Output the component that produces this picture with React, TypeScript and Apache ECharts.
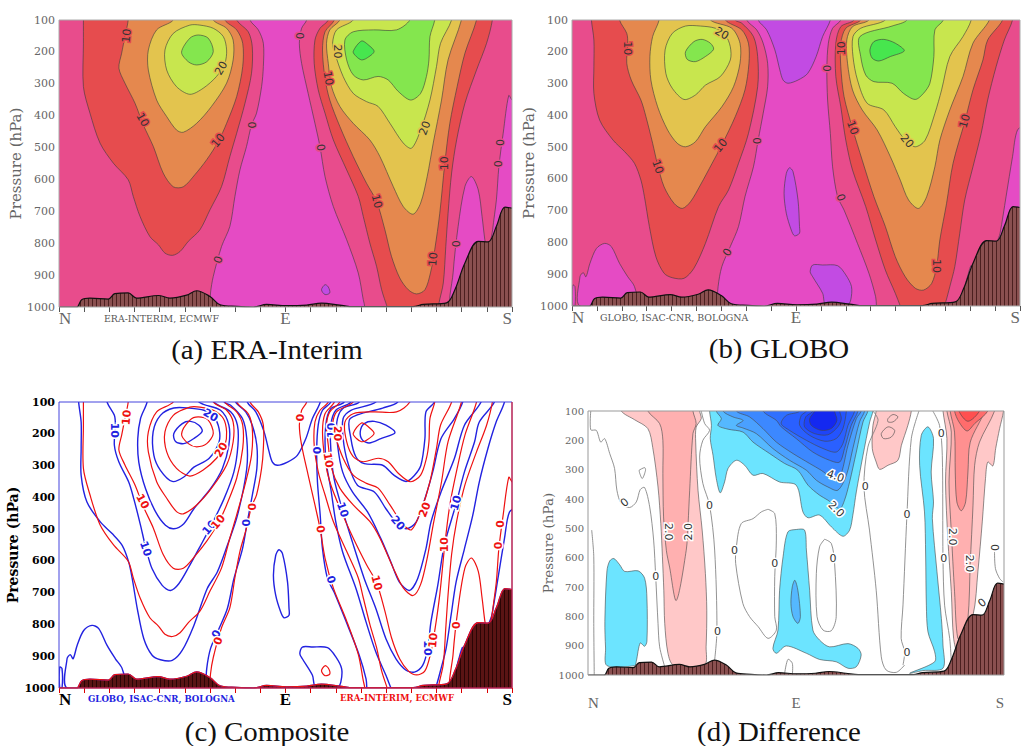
import React, { useEffect, useRef } from "react";
import * as echarts from "echarts";

type Pt = number[];

// Position along the section in degrees (N = 0, E = 90, S = 180) and pressure in hPa.
const terrain: Pt[] = [[0,1000],[7,1000],[9,977],[12.3,972],[19.6,975],[22.2,958],[27.5,956],[30.8,972],[39.5,964],[44.1,972],[50.7,963],[54.7,949],[60,967],[64,993],[70.6,998],[77.2,1000],[82.5,992],[90.4,996],[98.4,994],[104.3,988],[111.6,994],[116.9,999],[140.7,999],[144.7,992],[154,987],[157.3,946],[161.3,862],[166.6,794],[170.5,796],[173.8,747],[177.2,687],[180,690]];

// ERA-Interim contours
const eraCentre: Pt[] = [[75.9,100],[79.2,131],[81.2,173],[81.2,246],[80.5,309],[78.5,392],[76.5,429],[74.5,497],[71.9,570],[69.9,653],[67.9,747],[64.6,810],[61.3,904],[60.2,956],[60,1000],[60,1040],[121.5,1040],[121.5,1000],[120.9,977],[118.9,893],[114.3,789],[109,685],[105.7,591],[103.7,497],[101.7,424],[99,330],[96.4,236],[95.5,173],[96.4,126],[98.4,100]];
const eraLobe: Pt[] = [[156,1019],[156.6,893],[158.6,747],[161.3,622],[163.9,591],[166.6,633],[168.1,716],[169.2,789],[170.1,831],[170.1,1019]];
const eraEdge: Pt[] = [[171.6,831],[172.3,758],[173.8,664],[174.8,559],[176.5,455],[178.7,337],[180,351],[183,371],[183,831]];
const eraBlob: Pt[] = [[104.3,946],[105.7,930],[107,937],[107.6,956],[105.7,961]];
const eraRedWest: Pt[] = [[9.7,100],[9.7,173],[9.7,309],[12.3,392],[16.3,486],[21.6,549],[27.5,601],[29.5,653],[32.2,716],[36.1,779],[39.5,805],[42.1,831],[45.1,838],[48.1,826],[51.4,794],[56,758],[60,695],[64.6,622],[67.9,528],[70.6,455],[73.9,361],[76.5,267],[76.8,184],[75.2,137],[70.6,100]];
const eraOrangeWest: Pt[] = [[27.5,100],[26.2,152],[24.9,204],[23.8,251],[26.2,298],[30.2,361],[33.5,429],[37.5,497],[41.4,580],[45.4,623],[49.4,623],[54,585],[58.7,538],[63.3,481],[66.6,424],[70.6,340],[73,246],[73,173],[70.6,131],[65.9,100]];
const eraYellowWest: Pt[] = [[45.4,100],[38.8,131],[35.5,194],[35.5,257],[38.8,351],[42.8,403],[46.7,445],[49.4,452],[54.7,424],[60.6,371],[66.6,298],[69.2,225],[69.2,163],[66.6,126],[61.3,100]];
const eraLimeWest: Pt[] = [[56,116],[52,116],[45.4,142],[42.1,194],[42.8,257],[46.7,309],[52,333],[57.3,314],[62.6,277],[65.9,236],[66.6,194],[65.3,152],[61.3,126]];
const eraGreenWest: Pt[] = [[48.7,201],[52,157],[55.3,147],[59.3,157],[61.3,199],[58.7,231],[54.7,241],[51.4,231]];
const eraRedEast: Pt[] = [[107,100],[103.7,126],[101.7,163],[101.4,236],[103,319],[105.7,392],[109,476],[114.3,570],[118.9,653],[120.9,716],[123.5,799],[126.2,873],[128.2,946],[130.4,1000],[132,1040],[150,1040],[151,987],[152.7,925],[153.7,810],[154.6,706],[156,580],[158,476],[161.3,361],[165.9,257],[169.9,173],[172.2,100]];
const eraOrangeEast: Pt[] = [[109.4,100],[105.7,137],[104.7,194],[105.7,283],[107.6,351],[111.6,434],[116.9,528],[122.2,612],[126.2,669],[129.5,758],[132.1,841],[135.4,909],[138.8,946],[142.1,959],[145.4,946],[147.6,893],[149.3,820],[151.3,706],[153.3,549],[155.3,424],[158.2,309],[161.3,204],[165.9,100]];
const eraYellowEast: Pt[] = [[111.6,100],[107.6,131],[106.3,173],[107,236],[108.3,309],[111.6,371],[116.9,424],[123.5,476],[127.5,528],[132.8,622],[136.8,685],[140.7,709],[143.7,674],[146.3,591],[148.7,486],[152,351],[154.6,225],[159.9,100]];
const eraLimeEast: Pt[] = [[116.9,100],[110.3,131],[108.7,173],[109.6,204],[112.9,277],[116.9,330],[122.2,356],[126.8,371],[131.5,424],[136.8,486],[140.1,502],[143.7,445],[147.4,351],[150,246],[151.6,173],[156,100]];
const eraGreenEast: Pt[] = [[149.3,100],[147.4,152],[147,225],[146,277],[143.7,330],[139.7,351],[134.8,324],[130.8,288],[126.8,277],[120.9,288],[116.9,272],[114.3,225],[113.6,163],[116.9,137],[124.9,131],[134.1,131],[139.4,100]];
const eraBrightEast: Pt[] = [[116.9,199],[120.2,166],[122.9,178],[125.2,199],[122.2,220],[120.2,225],[118.2,215]];
const eraLabels: (number | string)[][] = [[26.9,149,"10",85],[64.5,251,"20",60],[33.2,413,"10",-60],[63.3,478,"10",50],[76.8,429,"0",90],[63.3,852,"0",70],[95.7,149,"0",-90],[110.6,199,"20",-90],[107,283,"10",-80],[103.9,500,"0",-80],[126.2,669,"10",-75],[153.3,549,"10",90],[145.4,439,"20",70],[148.7,850,"10",85],[157.9,802,"0",90],[175.6,484,"0",90],[174.8,551,"0",90]];

// GLOBO contours
const gloCentre: Pt[] = [[70.2,100],[74.2,131],[76.8,173],[78.6,236],[78.6,310],[76.8,394],[74.8,478],[72.9,562],[69.5,656],[66.9,750],[63.6,813],[60.2,876],[58.7,939],[58.3,1000],[58.3,1040],[122.3,1040],[122.3,1000],[122,971],[119.3,897],[114.7,803],[109.3,698],[106.7,656],[104.7,562],[103.8,457],[102.7,352],[102.4,252],[103,173],[104.7,126],[108,100]];
const gloPurpleTop: Pt[] = [[74.8,100],[78.2,131],[81.5,194],[83.5,257],[84.8,289],[86.8,299],[90.8,289],[94.7,268],[98.1,215],[100.7,152],[103.8,100]];
const gloPurpleMid: Pt[] = [[87.4,565],[88.8,577],[90.8,666],[91.4,750],[91.4,771],[89.4,779],[88.1,761],[86.1,708],[85.2,645],[86.1,583]];
const gloPurpleLow: Pt[] = [[96.7,871],[100.7,871],[106.7,873],[110,902],[112.3,939],[112,981],[110.7,997],[102,997],[100.7,960],[96.7,908],[95.7,892]];
const gloLobe: Pt[] = [[3.2,1000],[3.2,908],[4.5,895],[5.6,908],[7.2,866],[9.8,819],[13.1,803],[15.8,813],[19.1,866],[22.4,908],[25.1,939],[26,1000]];
const gloStrip: Pt[] = [[0.3,934],[1.2,939],[1.2,1000],[0.3,1000]];
const gloEdge: Pt[] = [[170.4,824],[172,771],[174.4,656],[177,530],[179,446],[182.3,436],[182.3,824]];
const gloSmall: Pt[] = [[160.4,873],[159.1,902],[158.2,939],[161.1,939]];
const gloRedWest: Pt[] = [[7.8,100],[8.8,163],[8.8,247],[8.8,331],[11.1,415],[16.5,478],[21.1,514],[25.1,551],[27.7,604],[29.1,656],[31.1,750],[33.7,845],[37,897],[40.3,911],[45,913],[49,881],[53.6,803],[58.9,687],[62.9,635],[66.9,551],[70.9,457],[74.6,310],[74.6,215],[72.9,152],[68.2,110],[65.6,100]];
const gloOrangeWest: Pt[] = [[19.1,100],[22,142],[22.4,173],[22,236],[23.8,289],[27.7,352],[29.7,404],[32.4,488],[34.4,556],[37,625],[41,677],[44.3,693],[47.6,672],[51.6,619],[56.3,551],[60.2,493],[65.6,404],[69.5,320],[71.1,236],[70.9,173],[68.2,131],[61.6,100]];
const gloYellowWest: Pt[] = [[35,100],[32.4,152],[31.3,215],[31.7,289],[34.4,373],[38.4,446],[42.3,488],[45.6,499],[49.6,483],[53.6,436],[60.2,373],[64.9,310],[67.5,236],[67.5,173],[64.2,126],[55.6,100]];
const gloLimeWest: Pt[] = [[45.6,119],[40.3,142],[37.4,194],[37.7,268],[40.3,315],[45,350],[49.6,336],[53.6,305],[59.6,278],[63.6,226],[63.6,184],[61.6,147],[57.6,126],[51.6,119]];
const gloGreenWest: Pt[] = [[45.6,200],[49,168],[52.3,161],[55.6,173],[56.9,192],[53.6,215],[49.6,231],[46.3,224]];
const gloRedEast: Pt[] = [[113.3,100],[108,121],[106,173],[106,278],[108,373],[110,478],[112.7,572],[118,687],[122,792],[125.9,887],[129.9,960],[131.9,1000],[134,1040],[148,1040],[150.2,986],[151.8,939],[153.8,876],[155.8,771],[157.8,666],[161.1,562],[164.4,457],[167,352],[170.4,247],[173.7,163],[177,100]];
const gloOrangeEast: Pt[] = [[116,100],[110,126],[108,173],[108,247],[109.3,341],[112.7,441],[116.6,541],[121.3,656],[125.9,750],[129.9,845],[133.9,908],[137.9,944],[141.2,950],[144.5,929],[146.5,876],[147.8,792],[150.5,677],[153.1,551],[157.8,420],[161.1,320],[165.1,226],[167,163],[173,100]];
const gloYellowEast: Pt[] = [[119.3,100],[112.7,121],[110.4,163],[110.7,236],[112.7,320],[116.6,383],[122.6,446],[127.9,530],[131.9,604],[135.2,666],[139.2,693],[142.5,656],[145.8,562],[147.8,478],[151.8,383],[157.1,278],[161.1,173],[167.7,100]];
const gloLimeEast: Pt[] = [[125.9,100],[116,126],[112.9,152],[112.9,215],[114.7,289],[118.6,362],[125.3,383],[129.9,436],[133.9,478],[137.9,499],[141.9,478],[145.8,394],[148.5,320],[151.8,215],[157.1,152],[160.4,100]];
const gloGreenEast: Pt[] = [[149.2,100],[145.8,131],[145.4,215],[143.8,299],[141.2,331],[137.9,350],[133.2,331],[128.6,299],[121.3,294],[118,273],[116,215],[115.7,152],[128.6,119],[134.6,100]];
const gloBrightEast: Pt[] = [[119.7,194],[121.3,168],[125.3,161],[129.9,173],[133.5,197],[127.9,215],[123.3,229],[120.6,220]];
const gloLabels: (number | string)[][] = [[22.2,189,"10",-90],[60.2,142,"20",-30],[34.4,562,"10",-70],[59.8,495,"10",50],[74.6,480,"0",90],[62.5,831,"0",60],[102.4,252,"0",-90],[108.3,189,"10",90],[112.7,439,"10",-70],[108,659,"0",-70],[134.6,481,"20",-50],[157.8,418,"10",75],[146.5,874,"10",-90]];

// Difference contours
const difPinkWest: Pt[] = [[14.4,100],[20.2,130],[25.9,160],[28,224],[30.3,359],[31.5,484],[32.2,597],[32.8,711],[33.2,824],[34.6,926],[37,966],[50.4,966],[51.1,904],[51.4,779],[50.8,654],[49.4,506],[47.6,370],[46.6,206],[46.8,155],[49,126],[48.3,100]];
const difRoseWest: Pt[] = [[25.9,100],[31,143],[32.4,200],[32.4,313],[32.7,461],[33.9,575],[35.3,632],[38.2,746],[42.5,575],[43.3,484],[44,370],[45.4,177],[46.8,143],[45.4,100]];
const difPinkMid: Pt[] = [[124.7,100],[123.3,149],[123,228],[124.7,274],[126.2,299],[129.8,285],[134.1,268],[135.6,217],[138.4,149],[139.9,100]];
const difOvalOne: Pt[] = [[129.8,126],[132,112],[134.1,120],[132,137],[129.8,137]];
const difOvalTwo: Pt[] = [[126.9,177],[129.8,154],[132.7,166],[131.2,189],[127.9,194]];
const difPinkEast: Pt[] = [[153.6,100],[155.3,194],[154.7,342],[155.7,535],[157.2,716],[158.2,875],[160,921],[166.6,796],[168.7,648],[170.6,478],[172,330],[173,274],[175.2,287],[176.4,228],[178.1,160],[179.8,100]];
const difRoseEast: Pt[] = [[155.3,100],[157.2,172],[156.2,342],[157.2,512],[158.6,716],[160,875],[162.2,864],[164.4,807],[165.4,620],[166.6,421],[167.3,285],[169.4,206],[175.9,100]];
const difSalmonEast: Pt[] = [[156.7,100],[158.6,172],[158.9,308],[159.6,410],[161.5,440],[163.4,410],[164.4,308],[165.4,206],[171.6,100]];
const difCoralEast: Pt[] = [[158.6,100],[160.5,137],[164,168],[167.3,143],[173,100]];
const difRedEast: Pt[] = [[160.5,100],[164.4,135],[169.4,100]];
const difCyanWest: Pt[] = [[11.2,603],[13.7,624],[15.9,647],[21.7,645],[24.5,670],[25.5,738],[25.5,885],[24.5,902],[22.6,891],[20.9,953],[20.2,968],[8.2,968],[7.6,908],[7.3,817],[8.2,645],[9.4,611]];
const difCyanTop: Pt[] = [[52.6,100],[53.4,149],[52.9,194],[54.1,251],[55.5,330],[57.2,379],[59.1,342],[60.6,296],[64.2,268],[67.8,285],[71.4,319],[75.7,313],[82.9,342],[90.1,353],[93,444],[95.2,464],[100.2,455],[105.3,495],[110.3,527],[113.2,506],[114.6,455],[116.1,376],[119,251],[121.9,137],[123.3,100]];
const difBlue1: Pt[] = [[55.5,100],[57.7,126],[56.2,149],[60.6,162],[67.1,172],[71.4,206],[78.6,245],[85.1,279],[90.8,302],[95.2,353],[100.2,387],[103.8,404],[108.9,433],[111,404],[113.2,342],[116.1,240],[119,137],[121.1,100]];
const difBlue2: Pt[] = [[58.4,100],[62.7,120],[67.1,132],[64.2,149],[67.1,158],[72.8,177],[80,228],[87.2,268],[94.5,302],[98.8,336],[103.8,359],[108.1,370],[111.8,319],[114.6,228],[117.5,137],[119.7,100]];
const difBlue3: Pt[] = [[64.2,100],[69.9,120],[75.7,160],[81.5,206],[88.7,245],[95.9,279],[100.9,302],[105.2,325],[108.9,325],[112.5,217],[116.1,126],[118.2,100]];
const difBlue4: Pt[] = [[75.7,100],[81.5,132],[83.6,154],[90.1,194],[97.3,240],[104.5,268],[108.9,274],[111,228],[113.9,149],[116.8,100]];
const difBlue5: Pt[] = [[91.6,100],[85.8,115],[83.6,143],[87.2,166],[94.5,200],[101.7,228],[107.4,240],[110.3,211],[112.5,149],[115.4,100]];
const difBlue6: Pt[] = [[94.5,100],[92.3,115],[91.6,149],[95.9,183],[102.4,203],[107.4,194],[110.3,160],[111.8,100]];
const difBlue7: Pt[] = [[97.3,100],[94.2,120],[93.7,154],[98,177],[103.8,181],[108.1,154],[109.6,126],[108.9,100]];
const difBlue8: Pt[] = [[98,100],[95.9,126],[96.6,149],[100.9,166],[105.2,160],[107.7,132],[106.7,100]];
const difCyanLobe: Pt[] = [[90.1,504],[93.7,506],[94.5,574],[95.9,711],[97.3,847],[100.2,881],[104.5,904],[112.5,893],[116.8,909],[118.2,932],[116.1,972],[112.5,977],[107.4,955],[100.2,947],[94.5,926],[85.8,901],[81.5,926],[80,909],[82.2,847],[82.9,711],[84.4,597],[86.5,512]];
const difBlueCore: Pt[] = [[89.5,677],[90.8,711],[91.9,801],[90.8,824],[88.7,801],[87.8,756],[88.4,699]];
const difCyanEast: Pt[] = [[147.1,154],[149.5,194],[148.5,308],[149.5,410],[149,467],[151,648],[152.9,807],[153.6,898],[153.6,977],[144.9,985],[139.2,994],[150,955],[150,921],[147.1,853],[146.4,762],[146.1,591],[145.6,444],[143.5,285],[144.2,183]];
const difZeroA: Pt[] = [[1.2,100],[1.2,164],[3.6,166],[5.5,206],[7.2,194],[9.4,245],[11.5,296],[12.5,370],[14.4,416],[18,429],[20.9,410],[22.6,368],[24.5,361],[26.7,427],[28.4,540],[29.3,665],[30.3,824],[31,904],[33.2,972]];
const difZeroB: Pt[] = [[22.1,302],[24.5,293],[24.9,302],[23.5,330],[22.4,313],[22.1,302]];
const difZeroC: Pt[] = [[1.6,506],[2.5,597],[2.5,824],[2.7,1000]];
const difZeroD: Pt[] = [[49,100],[50.5,143],[52.6,166],[49.7,200],[48.3,257],[49.7,347],[52.6,421],[54.8,574],[55.8,847],[54.8,949]];
const difZeroE: Pt[] = [[77.9,435],[80.8,450],[81.5,540],[80.8,665],[80.8,801],[81.5,847],[77.9,875],[73.6,835],[69.9,801],[67,756],[63.9,620],[64.2,563],[66.3,484],[71.4,467],[75,444],[77.9,435]];
const difZeroF: Pt[] = [[102.4,537],[105.3,552],[106.7,620],[107.4,801],[105.3,849],[101.7,847],[99.1,801],[98.8,654],[100.2,563],[102.4,537]];
const difZeroG: Pt[] = [[85.1,994],[86.5,947],[88.4,960],[88.4,1000]];
const difZeroH: Pt[] = [[123.3,100],[125.5,132],[121.1,223],[119.4,359],[121.8,506],[124.7,711],[126.9,938],[129,983],[133.4,991],[137,966]];
const difZeroI: Pt[] = [[143.2,100],[139.9,194],[138,455],[136.3,761],[135.5,875],[137,921],[136.3,966]];
const difZeroJ: Pt[] = [[149.2,100],[152.1,149],[153.3,251],[153.6,603],[154.3,762],[156.5,875],[157.2,955]];
const difZeroK: Pt[] = [[175.9,580],[176.3,637],[178.1,671],[179.5,682]];
const difLabels: (number | string)[][] = [[15.9,412,"0",40],[29.3,665,"0",0],[56,852,"0",0],[52.6,421,"0",0],[63.4,574,"0",0],[80.8,620,"0",0],[106,603,"0",0],[120,359,"0",0],[138,452,"0",0],[153.9,604,"0",0],[152.9,177,"0",0],[138,924,"0",0],[176.2,565,"0",90],[170.6,754,"0",40],[34.9,512,"2.0",-90],[43.3,512,"2.0",90],[157.5,529,"2.0",-90],[165.1,620,"2.0",-90],[107.4,435,"2.0",-45],[107.1,322,"4.0",-20]];

const pressureTicks = { min: 100, max: 1000, step: 100 };
const sectionTicks = { min: 0, max: 180, step: 10 };

const C = {
  pink: "#e84c8c", magenta: "#e54bc4", purple: "#c24be3", red: "#e64c4e", orange: "#e5884e",
  yellow: "#e3c44e", lime: "#c8e64e", green: "#84e64e", bright: "#47e64e",
  cyan: "#6ce4ff", b1: "#55b8ff", b2: "#4aa0ff", b3: "#3c88ff", b4: "#3070ff", b5: "#2a60ff", b6: "#2454ff", b7: "#1e44f8", b8: "#1428f0",
  p1: "#ffc8c8", p2: "#ffb0b0", p3: "#ff9090", p4: "#ff6c6c", p5: "#ff5050",
};

type Layer = { pts: Pt[]; fill: string; open?: boolean };

const eraLayers: Layer[] = [
  { pts: eraCentre, fill: C.magenta }, { pts: eraLobe, fill: C.magenta }, { pts: eraEdge, fill: C.magenta }, { pts: eraBlob, fill: C.purple },
  { pts: eraRedWest, fill: C.red }, { pts: eraOrangeWest, fill: C.orange }, { pts: eraYellowWest, fill: C.yellow }, { pts: eraLimeWest, fill: C.lime }, { pts: eraGreenWest, fill: C.green },
  { pts: eraRedEast, fill: C.red }, { pts: eraOrangeEast, fill: C.orange }, { pts: eraYellowEast, fill: C.yellow }, { pts: eraLimeEast, fill: C.lime }, { pts: eraGreenEast, fill: C.green }, { pts: eraBrightEast, fill: C.bright },
];
const gloLayers: Layer[] = [
  { pts: gloCentre, fill: C.magenta }, { pts: gloPurpleTop, fill: C.purple }, { pts: gloPurpleMid, fill: C.purple }, { pts: gloPurpleLow, fill: C.purple },
  { pts: gloLobe, fill: C.magenta }, { pts: gloStrip, fill: C.magenta }, { pts: gloEdge, fill: C.magenta }, { pts: gloSmall, fill: C.magenta },
  { pts: gloRedWest, fill: C.red }, { pts: gloOrangeWest, fill: C.orange }, { pts: gloYellowWest, fill: C.yellow }, { pts: gloLimeWest, fill: C.lime }, { pts: gloGreenWest, fill: C.green },
  { pts: gloRedEast, fill: C.red }, { pts: gloOrangeEast, fill: C.orange }, { pts: gloYellowEast, fill: C.yellow }, { pts: gloLimeEast, fill: C.lime }, { pts: gloGreenEast, fill: C.green }, { pts: gloBrightEast, fill: C.bright },
];
const difLayers: Layer[] = [
  { pts: difPinkWest, fill: C.p1 }, { pts: difRoseWest, fill: C.p2 }, { pts: difPinkMid, fill: C.p1 }, { pts: difOvalOne, fill: C.p1 }, { pts: difOvalTwo, fill: C.p1 },
  { pts: difPinkEast, fill: C.p1 }, { pts: difRoseEast, fill: C.p2 }, { pts: difSalmonEast, fill: C.p3 }, { pts: difCoralEast, fill: C.p4 }, { pts: difRedEast, fill: C.p5 },
  { pts: difCyanWest, fill: C.cyan }, { pts: difCyanTop, fill: C.cyan }, { pts: difBlue1, fill: C.b1 }, { pts: difBlue2, fill: C.b2 }, { pts: difBlue3, fill: C.b3 }, { pts: difBlue4, fill: C.b4 }, { pts: difBlue5, fill: C.b5 }, { pts: difBlue6, fill: C.b6 }, { pts: difBlue7, fill: C.b7 }, { pts: difBlue8, fill: C.b8 },
  { pts: difCyanLobe, fill: C.cyan }, { pts: difBlueCore, fill: C.b1 }, { pts: difCyanEast, fill: C.cyan },
];
const difZeroLayers: Layer[] = [difZeroA, difZeroB, difZeroC, difZeroD, difZeroE, difZeroF, difZeroG, difZeroH, difZeroI, difZeroJ, difZeroK].map((pts) => ({ pts, fill: "none", open: true }));

function extendTop(pts: Pt[]): Pt[] {
  const first = pts[0];
  const last = pts[pts.length - 1];
  const out = pts.slice();
  if (last[1] === 100) out.push([last[0], 60]);
  if (first[1] === 100) out.unshift([first[0], 60]);
  return out;
}

function contourSeries(idx: number, layers: Layer[], stroke: string, lineWidth: number, noFill = false, z = 3) {
  return {
    type: "custom", xAxisIndex: idx, yAxisIndex: idx, clip: true, z, silent: true,
    encode: { x: 0, y: 1 },
    data: layers.map((l) => l.pts[0]),
    renderItem: (params: any, api: any) => {
      const l = layers[params.dataIndex];
      const points = (l.open ? l.pts : extendTop(l.pts)).map((p) => api.coord(p));
      return {
        type: l.open ? "polyline" : "polygon",
        shape: { points, smooth: 0.3 },
        style: { fill: noFill || l.open ? "none" : l.fill, stroke, lineWidth },
      };
    },
  };
}

function labelSeries(idx: number, labels: (number | string)[][], color: string, font: string, halo: (t: string) => string) {
  return {
    type: "custom", xAxisIndex: idx, yAxisIndex: idx, z: 6, silent: true,
    encode: { x: 0, y: 1 },
    data: labels.map((l) => [l[0], l[1]]),
    renderItem: (params: any, api: any) => {
      const l = labels[params.dataIndex];
      const [x, y] = api.coord([l[0], l[1]]);
      return {
        type: "text", x, y, rotation: ((l[3] as number) * Math.PI) / 180,
        style: { text: String(l[2]), fill: color, font, align: "center", verticalAlign: "middle", stroke: halo(String(l[2])), lineWidth: 3 },
      };
    },
  };
}

function hatch(base: string, line: string) {
  const c = document.createElement("canvas");
  c.width = 4; c.height = 4;
  const g = c.getContext("2d")!;
  g.fillStyle = base; g.fillRect(0, 0, 4, 4);
  g.fillStyle = line; g.fillRect(0, 0, 1, 4);
  return { image: c, repeat: "repeat" };
}

function terrainSeries(idx: number, fill: any, stroke: string, lineWidth = 1.2) {
  return {
    type: "line", xAxisIndex: idx, yAxisIndex: idx, z: 5, silent: true, showSymbol: false, symbol: "none", smooth: 0.35,
    data: terrain, lineStyle: { color: stroke, width: lineWidth },
    ...(fill ? { areaStyle: { origin: "end", color: fill, opacity: 1 } } : {}),
  };
}

function frameSeries(idx: number, color: string, rightColor?: string) {
  return {
    type: "custom", xAxisIndex: idx, yAxisIndex: idx, z: 7, clip: false, silent: true,
    encode: { x: 0, y: 1 },
    data: [[sectionTicks.min, pressureTicks.min]],
    renderItem: (_: any, api: any) => {
      const a = api.coord([sectionTicks.min, pressureTicks.min]);
      const b = api.coord([sectionTicks.max, pressureTicks.max]);
      const children: any[] = [{ type: "rect", shape: { x: a[0], y: a[1], width: b[0] - a[0], height: b[1] - a[1] }, style: { fill: "none", stroke: color, lineWidth: 1 } }];
      if (rightColor) children.push({ type: "polyline", shape: { points: [[a[0], b[1]], [b[0], b[1]], [b[0], a[1]]] }, style: { fill: "none", stroke: rightColor, lineWidth: 1 } });
      return { type: "group", children };
    },
  };
}

const rects = [
  { left: 59, top: 20, width: 453, height: 287 },
  { left: 572, top: 20, width: 452, height: 286 },
  { left: 59, top: 402, width: 453, height: 286 },
  { left: 588, top: 411, width: 416, height: 264 },
];

export default function App() {
  const ref = useRef<HTMLDivElement>(null);
  useEffect(() => {
    const chart = echarts.init(ref.current!, undefined, { renderer: "svg" });
    const terrainFill = hatch("#8a5050", "#4c2020");
    const darkFill = hatch("#5a1414", "#2a0505");
    const edge = (v: number) => (v === 0 ? "N" : v === 90 ? "E" : v === 180 ? "S" : "");
    const style = [
      { color: "#666", size: 11, weight: "normal" as const, nameSize: 15, edge: 17, margin: 3, tick: true, tickColor: "#555", nameGap: 36 },
      { color: "#666", size: 11, weight: "normal" as const, nameSize: 15, edge: 17, margin: 3, tick: true, tickColor: "#555", nameGap: 36 },
      { color: "#000", size: 11, weight: "bold" as const, nameSize: 14, edge: 17, margin: 3, tick: true, tickColor: "#d00", nameGap: 36 },
      { color: "#666", size: 10, weight: "normal" as const, nameSize: 13.5, edge: 15, margin: 20, tick: false, tickColor: "#555", nameGap: 33 },
    ];
    const haloA = (t: string) => (t === "0" ? C.pink : t === "10" ? C.red : C.yellow);
    const white = () => "#fff";
    const lineDark = "#3a3a3a";
    const lineGrey = "#777";
    const caption = (text: string, x: number, y: number) => ({
      type: "text", x, y, silent: true, scaleX: 1.07,
      style: { text, font: "27px 'Liberation Serif'", fill: "#111", align: "center", verticalAlign: "middle" },
    });
    const stamp = (text: string, x: number, y: number, fill: string, bold = false) => ({
      type: "text", x, y, silent: true,
      style: { text, font: `${bold ? "bold 8.6px" : "9.4px"} 'DejaVu Serif'`, fill, align: "left", verticalAlign: "middle" },
    });
    chart.setOption({
      animation: false,
      backgroundColor: "#fff",
      grid: rects.map((r, i) => ({ ...r, show: i !== 2, backgroundColor: i < 2 ? C.pink : "#fff", borderWidth: 0 })),
      xAxis: rects.map((_, i) => ({
        type: "value", gridIndex: i, min: sectionTicks.min, max: sectionTicks.max, interval: sectionTicks.step,
        splitLine: { show: false },
        axisLine: { show: false },
        axisTick: { show: style[i].tick, length: 5, lineStyle: { color: style[i].tickColor } },
        axisLabel: {
          formatter: edge, margin: style[i].margin, color: style[i].color, fontFamily: "Liberation Serif",
          fontSize: style[i].edge, fontWeight: style[i].weight, alignMinLabel: "left", alignMaxLabel: "right", showMinLabel: true, showMaxLabel: true, hideOverlap: false,
        },
      })),
      yAxis: rects.map((_, i) => ({
        type: "value", gridIndex: i, inverse: true, min: pressureTicks.min, max: pressureTicks.max, interval: pressureTicks.step,
        name: "Pressure (hPa)", nameLocation: "middle", nameRotate: 90, nameGap: style[i].nameGap,
        nameTextStyle: { color: style[i].color, fontFamily: "DejaVu Serif", fontSize: style[i].nameSize, fontWeight: style[i].weight },
        splitLine: { show: false }, axisLine: { show: false }, axisTick: { show: false },
        axisLabel: { formatter: (v: number) => String(v), margin: 4, color: style[i].color, fontFamily: "DejaVu Serif", fontSize: style[i].size, fontWeight: style[i].weight },
      })),
      series: [
        contourSeries(0, eraLayers, lineDark, 0.6),
        terrainSeries(0, terrainFill, "#111"),
        labelSeries(0, eraLabels, "#333", "11px 'DejaVu Sans'", haloA),
        frameSeries(0, "#aaa"),

        contourSeries(1, gloLayers, lineDark, 0.6),
        terrainSeries(1, terrainFill, "#111"),
        labelSeries(1, gloLabels, "#333", "11px 'DejaVu Sans'", haloA),
        frameSeries(1, "#aaa"),

        contourSeries(2, gloLayers, "#2222e0", 1.4, true, 3),
        contourSeries(2, eraLayers, "#ee1111", 1.2, true, 4),
        terrainSeries(2, darkFill, "#2222e0"),
        { ...terrainSeries(2, null, "#ee1111"), z: 5 },
        labelSeries(2, gloLabels, "#2222e0", "bold 11px 'DejaVu Sans'", white),
        labelSeries(2, eraLabels, "#ee1111", "bold 11px 'DejaVu Sans'", white),
        frameSeries(2, "#4444dd", "#ee1111"),

        contourSeries(3, difLayers, "#444", 0.6),
        contourSeries(3, difZeroLayers, lineGrey, 0.8, true, 4),
        terrainSeries(3, terrainFill, "#111"),
        labelSeries(3, difLabels, "#333", "11px 'DejaVu Sans'", white),
        frameSeries(3, "#999"),
      ],
      graphic: [
        caption("(a) ERA-Interim", 267, 350),
        caption("(b) GLOBO", 779, 349),
        caption("(c) Composite", 267, 732),
        caption("(d) Difference", 779, 732),
        stamp("ERA-INTERIM, ECMWF", 104, 318, "#555"),
        stamp("GLOBO, ISAC-CNR, BOLOGNA", 600, 317, "#555"),
        stamp("GLOBO, ISAC-CNR, BOLOGNA", 88, 699, "#2222e0", true),
        stamp("ERA-INTERIM, ECMWF", 340, 698, "#ee1111", true),
      ],
    });
    return () => chart.dispose();
  }, []);
  return <div ref={ref} style={{ position: "absolute", left: 0, top: 0, width: 1023, height: 746 }} />;
}
